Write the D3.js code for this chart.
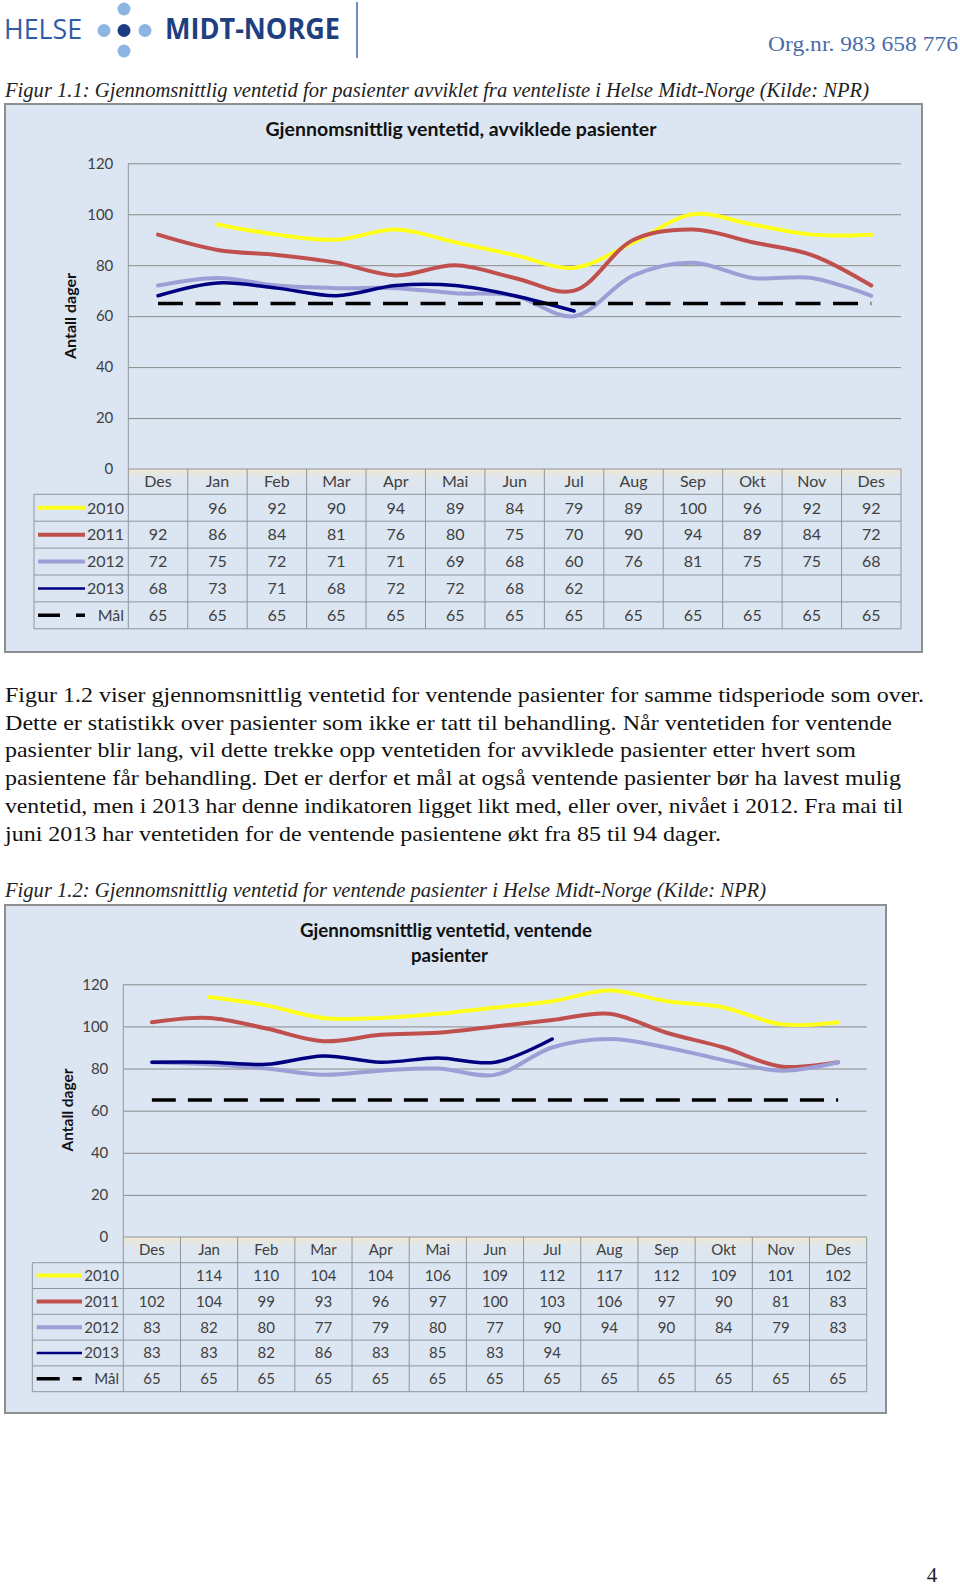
<!DOCTYPE html>
<html lang="no">
<head>
<meta charset="utf-8">
<script src="https://cdn.jsdelivr.net/npm/d3@7"></script>
<style>
  body { margin: 0; background: #fff; }
  svg { display: block; }
  .serif { font-family: "Liberation Serif", "DejaVu Serif", serif; }
  .cal { font-family: Lato, "Open Sans", sans-serif; }
</style>
</head>
<body>
<svg id="page" width="960" height="1590"></svg>
<script>
// ---- data ----
var months = ["Des", "Jan", "Feb", "Mar", "Apr", "Mai", "Jun", "Jul", "Aug", "Sep", "Okt", "Nov", "Des"];
var seriesNames = ["2010", "2011", "2012", "2013", "Mål"];
var yTicks = [0, 20, 40, 60, 80, 100, 120];

// Figur 1.1 - avviklede pasienter
var avviklet2010 = [null, 96, 92, 90, 94, 89, 84, 79, 89, 100, 96, 92, 92];
var avviklet2011 = [92, 86, 84, 81, 76, 80, 75, 70, 90, 94, 89, 84, 72];
var avviklet2012 = [72, 75, 72, 71, 71, 69, 68, 60, 76, 81, 75, 75, 68];
var avviklet2013 = [68, 73, 71, 68, 72, 72, 68, 62, null, null, null, null, null];
var avvikletMal  = [65, 65, 65, 65, 65, 65, 65, 65, 65, 65, 65, 65, 65];

// Figur 1.2 - ventende pasienter
var ventende2010 = [null, 114, 110, 104, 104, 106, 109, 112, 117, 112, 109, 101, 102];
var ventende2011 = [102, 104, 99, 93, 96, 97, 100, 103, 106, 97, 90, 81, 83];
var ventende2012 = [83, 82, 80, 77, 79, 80, 77, 90, 94, 90, 84, 79, 83];
var ventende2013 = [83, 83, 82, 86, 83, 85, 83, 94, null, null, null, null, null];
var ventendeMal  = [65, 65, 65, 65, 65, 65, 65, 65, 65, 65, 65, 65, 65];

var bodyLines = [
  "Figur 1.2 viser gjennomsnittlig ventetid for ventende pasienter for samme tidsperiode som over.",
  "Dette er statistikk over pasienter som ikke er tatt til behandling. Når ventetiden for ventende",
  "pasienter blir lang, vil dette trekke opp ventetiden for avviklede pasienter etter hvert som",
  "pasientene får behandling. Det er derfor et mål at også ventende pasienter bør ha lavest mulig",
  "ventetid, men i 2013 har denne indikatoren ligget likt med, eller over, nivået i 2012. Fra mai til",
  "juni 2013 har ventetiden for de ventende pasientene økt fra 85 til 94 dager."
];
var bodyWidths = [919, 887, 851, 896, 898, 716];

// ---- styles per series ----
var colors = ["#ffff1a", "#c0504d", "#9c9fd6", "#000080", "#000000"];
var widths = [4, 4, 4, 3.5, 3.5];
var keyWidths = [4, 4, 4, 2.5, 3.5];

var svg = d3.select("#page");
var defs = svg.append("defs");
var grad = defs.append("linearGradient").attr("id", "headGrad")
  .attr("x1", 0).attr("y1", 0).attr("x2", 0).attr("y2", 1);
grad.append("stop").attr("offset", "0").attr("stop-color", "#efe9d2");
grad.append("stop").attr("offset", "0.35").attr("stop-color", "#dfe6ee");
grad.append("stop").attr("offset", "1").attr("stop-color", "#dce6f2");

// ---- page header ----
svg.append("text").attr("x", 4).attr("y", 39)
  .attr("textLength", 78).attr("lengthAdjust", "spacingAndGlyphs")
  .style("font-family", "'Open Sans', sans-serif").style("font-size", "28px")
  .attr("fill", "#2f5ca6").text("HELSE");
[[104, 30.5, "#8eb4e3"], [124, 9, "#8eb4e3"], [145, 30.5, "#8eb4e3"], [124, 51, "#8eb4e3"], [124, 30.5, "#1b3b84"]]
  .forEach(function (d) {
    svg.append("circle").attr("cx", d[0]).attr("cy", d[1]).attr("r", 6.5).attr("fill", d[2]);
  });
svg.append("text").attr("x", 165).attr("y", 39)
  .attr("textLength", 175).attr("lengthAdjust", "spacingAndGlyphs")
  .style("font-family", "'Open Sans', sans-serif").style("font-size", "28px").style("font-weight", "bold")
  .attr("fill", "#1e3f80").text("MIDT-NORGE");
svg.append("line").attr("x1", 357).attr("x2", 357).attr("y1", 2).attr("y2", 58)
  .attr("stroke", "#3d68b0").attr("stroke-width", 1.5);
svg.append("text").attr("class", "serif").attr("x", 958).attr("y", 51)
  .attr("text-anchor", "end").attr("textLength", 190).attr("lengthAdjust", "spacingAndGlyphs")
  .style("font-size", "22px").attr("fill", "#4a6ca8").text("Org.nr. 983 658 776");

// captions
svg.append("text").attr("class", "serif").attr("x", 5).attr("y", 97)
  .attr("textLength", 864).attr("lengthAdjust", "spacingAndGlyphs")
  .style("font-size", "21px").style("font-style", "italic").attr("fill", "#222")
  .text("Figur 1.1: Gjennomsnittlig ventetid for pasienter avviklet fra venteliste i Helse Midt-Norge (Kilde: NPR)");
svg.append("text").attr("class", "serif").attr("x", 5).attr("y", 897)
  .attr("textLength", 761).attr("lengthAdjust", "spacingAndGlyphs")
  .style("font-size", "21px").style("font-style", "italic").attr("fill", "#222")
  .text("Figur 1.2: Gjennomsnittlig ventetid for ventende pasienter i Helse Midt-Norge (Kilde: NPR)");

// body text
svg.selectAll(".body").data(bodyLines).enter().append("text")
  .attr("class", "serif body")
  .attr("x", 5).attr("y", function (d, i) { return 702 + i * 27.7; })
  .attr("textLength", function (d, i) { return bodyWidths[i]; })
  .attr("lengthAdjust", "spacingAndGlyphs")
  .style("font-size", "22px").attr("fill", "#111")
  .text(function (d) { return d; });

svg.append("text").attr("class", "serif").attr("x", 932).attr("y", 1582)
  .attr("text-anchor", "middle").style("font-size", "21px").attr("fill", "#222").text("4");

// ---- chart drawing ----
function drawChart(cfg, data) {
  var g = svg.append("g");
  g.append("rect")
    .attr("x", cfg.box[0]).attr("y", cfg.box[1])
    .attr("width", cfg.box[2] - cfg.box[0]).attr("height", cfg.box[3] - cfg.box[1])
    .attr("fill", "#dce6f2").attr("stroke", "#8f8f8f").attr("stroke-width", 2);

  var x = d3.scaleBand().domain(d3.range(months.length)).range([cfg.left, cfg.right]);
  var y = d3.scaleLinear().domain([0, 120]).range([cfg.bottom, cfg.top]);
  var cx = function (i) { return x(i) + x.bandwidth() / 2; };

  // title
  cfg.title.forEach(function (t) {
    g.append("text").attr("class", "cal").attr("x", t.x).attr("y", t.y)
      .attr("text-anchor", "middle").attr("textLength", t.len).attr("lengthAdjust", "spacingAndGlyphs")
      .style("font-size", "18px").style("font-weight", "bold").attr("fill", "#111").text(t.text);
  });

  // y axis title
  g.append("text").attr("class", "cal")
    .attr("transform", "translate(" + cfg.yTitle.x + "," + cfg.yTitle.y + ") rotate(-90)")
    .attr("text-anchor", "middle").attr("textLength", cfg.yTitle.len).attr("lengthAdjust", "spacingAndGlyphs")
    .style("font-size", "14.5px").style("font-weight", "bold").attr("fill", "#111").text("Antall dager");

  // grid + tick labels
  var ax = g.append("g").attr("transform", "translate(" + cfg.left + ",0)")
    .call(d3.axisLeft(y).tickValues(yTicks).tickSize(-(cfg.right - cfg.left)).tickPadding(15));
  ax.select(".domain").remove();
  ax.selectAll(".tick line").attr("stroke", "#898989");
  ax.selectAll(".tick text").attr("class", "cal").style("font-size", "15px").attr("fill", "#404040");

  // data table
  var headTop = cfg.bottom, headBottom = cfg.bottom + cfg.headH;
  var rowTop = function (r) { return headBottom + r * cfg.rowH; };
  var tableBottom = rowTop(data.length);

  g.append("rect").attr("x", cfg.left).attr("y", headTop)
    .attr("width", cfg.right - cfg.left).attr("height", cfg.headH).attr("fill", "url(#headGrad)");

  var lines = g.append("g").attr("stroke", "#8f959c").attr("stroke-width", 1);
  lines.append("line").attr("x1", cfg.left).attr("x2", cfg.right).attr("y1", headTop).attr("y2", headTop);
  d3.range(data.length + 1).forEach(function (r) {
    lines.append("line").attr("x1", cfg.legendLeft).attr("x2", cfg.right)
      .attr("y1", rowTop(r)).attr("y2", rowTop(r));
  });
  lines.append("line").attr("x1", cfg.legendLeft).attr("x2", cfg.legendLeft)
    .attr("y1", headBottom).attr("y2", tableBottom);
  d3.range(months.length + 1).forEach(function (i) {
    var xx = i < months.length ? x(i) : cfg.right;
    lines.append("line").attr("x1", xx).attr("x2", xx)
      .attr("y1", i === 0 ? cfg.top : headTop).attr("y2", tableBottom);
  });

  // header labels
  g.selectAll(".mon").data(months).enter().append("text")
    .attr("class", "cal mon").attr("x", function (d, i) { return cx(i); })
    .attr("y", headTop + cfg.headH / 2).attr("dy", "0.36em").attr("text-anchor", "middle")
    .style("font-size", cfg.tableFont + "px").attr("fill", "#404040").text(function (d) { return d; });

  // rows
  data.forEach(function (s, r) {
    var mid = rowTop(r) + cfg.rowH / 2;
    g.selectAll(".v" + r).data(s.values).enter().append("text")
      .attr("class", "cal v" + r).attr("x", function (d, i) { return cx(i); })
      .attr("y", mid).attr("dy", "0.36em").attr("text-anchor", "middle")
      .style("font-size", cfg.tableFont + "px").attr("fill", "#404040")
      .text(function (d) { return d == null ? "" : d; });
    g.append("text").attr("class", "cal").attr("x", cfg.labelX).attr("y", mid).attr("dy", "0.36em")
      .attr("text-anchor", "end").style("font-size", cfg.tableFont + "px").attr("fill", "#404040")
      .text(s.name);
    var key = g.append("line").attr("x1", cfg.keyX[0]).attr("x2", cfg.keyX[1])
      .attr("y1", mid).attr("y2", mid)
      .attr("stroke", s.color).attr("stroke-width", s.keyWidth);
    if (s.dashed) key.attr("stroke-dasharray", cfg.keyDash);
  });

  // series lines
  var line = d3.line()
    .defined(function (d) { return d != null; })
    .x(function (d, i) { return cx(i); })
    .y(function (d) { return y(d); })
    .curve(d3.curveCatmullRom.alpha(0.5));
  data.forEach(function (s) {
    var p = g.append("path").attr("d", line(s.values)).attr("fill", "none")
      .attr("stroke", s.color).attr("stroke-width", s.width).attr("stroke-linejoin", "round");
    if (s.dashed) p.attr("stroke-dasharray", cfg.lineDash);
    else p.attr("stroke-linecap", "round");
  });
}

function makeSeries(arrays) {
  return arrays.map(function (vals, k) {
    return { name: seriesNames[k], values: vals, color: colors[k], width: widths[k],
             keyWidth: keyWidths[k], dashed: k === 4 };
  });
}

drawChart({
  box: [5, 104, 922, 652],
  left: 128.3, right: 901, top: 163.3, bottom: 469,
  headH: 25.3, rowH: 26.9, legendLeft: 34,
  keyX: [38, 85], labelX: 124, keyDash: "22,16,9,100", lineDash: "25,12.5",
  tableFont: 16,
  title: [{ text: "Gjennomsnittlig ventetid, avviklede pasienter", x: 461, y: 136, len: 391 }],
  yTitle: { x: 76, y: 316, len: 86 }
}, makeSeries([avviklet2010, avviklet2011, avviklet2012, avviklet2013, avvikletMal]));

drawChart({
  box: [5, 905, 886, 1413],
  left: 123.3, right: 866.7, top: 984.3, bottom: 1237,
  headH: 25.7, rowH: 25.8, legendLeft: 32.3,
  keyX: [36.7, 82], labelX: 119, keyDash: "23,13,9,100", lineDash: "24,12",
  tableFont: 15,
  title: [{ text: "Gjennomsnittlig ventetid, ventende", x: 446, y: 937, len: 292 },
          { text: "pasienter", x: 449.5, y: 961.5, len: 77 }],
  yTitle: { x: 73, y: 1110, len: 83 }
}, makeSeries([ventende2010, ventende2011, ventende2012, ventende2013, ventendeMal]));
</script>
</body>
</html>
